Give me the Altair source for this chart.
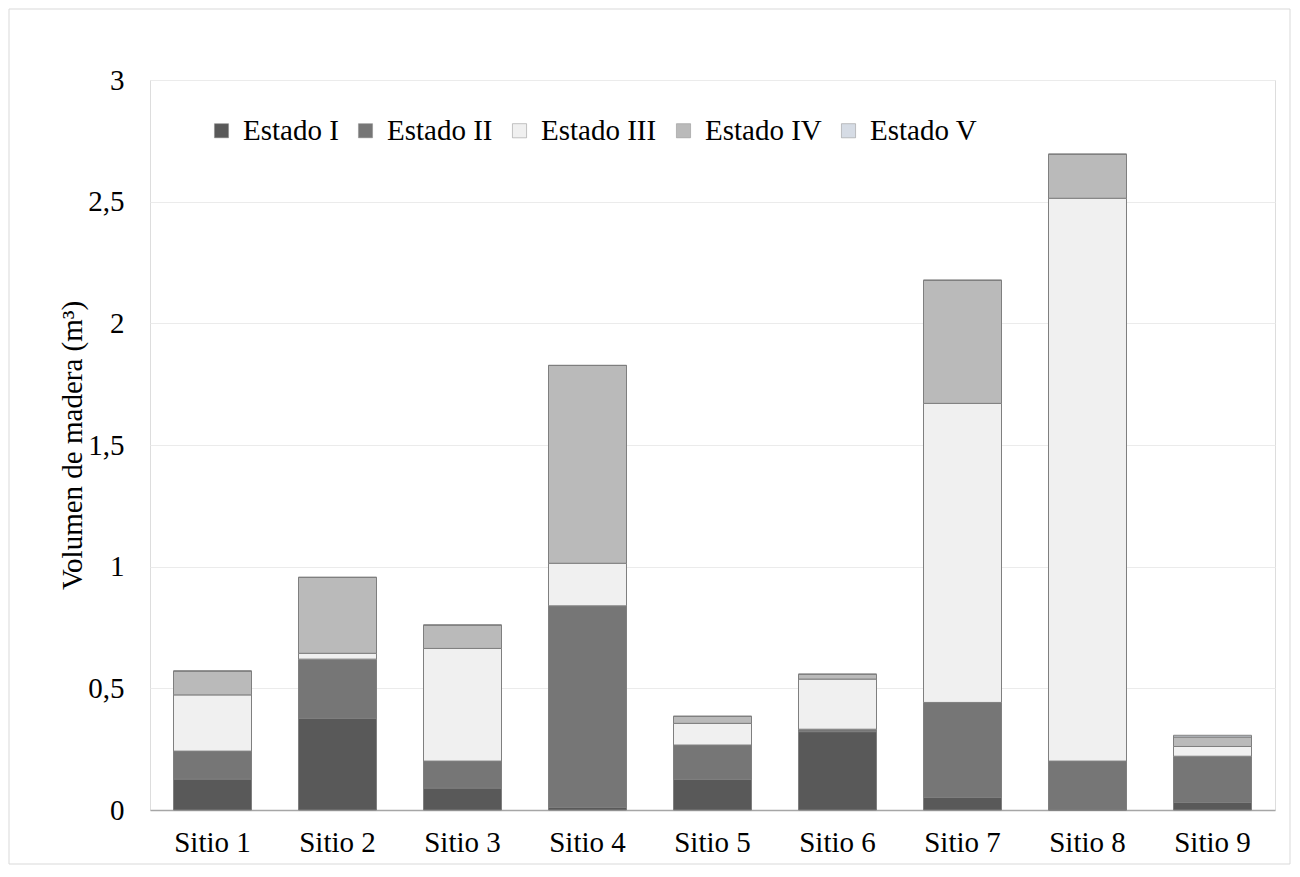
import altair as alt
import pandas as pd

sitios = ["Sitio 1", "Sitio 2", "Sitio 3", "Sitio 4", "Sitio 5",
          "Sitio 6", "Sitio 7", "Sitio 8", "Sitio 9"]
estados = ["Estado I", "Estado II", "Estado III", "Estado IV", "Estado V"]
estado_i = [0.127, 0.377, 0.090, 0.011, 0.126, 0.322, 0.052, 0.000, 0.031]
estado_ii = [0.115, 0.243, 0.111, 0.828, 0.141, 0.010, 0.390, 0.201, 0.190]
estado_iii = [0.231, 0.024, 0.463, 0.175, 0.089, 0.206, 1.229, 2.313, 0.040]
estado_iv = [0.098, 0.312, 0.096, 0.813, 0.029, 0.020, 0.506, 0.181, 0.039]
estado_v = [0.000, 0.000, 0.000, 0.000, 0.000, 0.000, 0.000, 0.000, 0.007]
y_ticks = [0, 0.5, 1, 1.5, 2, 2.5, 3]

series = [estado_i, estado_ii, estado_iii, estado_iv, estado_v]
rows = []
for k, (est, vals) in enumerate(zip(estados, series)):
    for s, v in zip(sitios, vals):
        rows.append({"Sitio": s, "Estado": est, "orden": k, "Volumen": v})
df = pd.DataFrame(rows)

FONT = "Liberation Serif"
FS = 29
colors = ["#595959", "#767676", "#f0f0f0", "#bababa", "#d6dce5"]

bars = alt.Chart(df).mark_bar(stroke="#7f7f7f", strokeWidth=1).encode(
    x=alt.X("Sitio:N", sort=sitios,
            scale=alt.Scale(paddingInner=0.376, paddingOuter=0.188),
            axis=alt.Axis(title=None, labelAngle=0, ticks=False,
                          domainColor="#a6a6a6", domainWidth=1.5,
                          labelPadding=18, labelFontSize=FS, labelFont=FONT,
                          labelColor="#000000", grid=False)),
    y=alt.Y("Volumen:Q", stack="zero",
            scale=alt.Scale(domain=[0, 3], nice=False),
            axis=alt.Axis(title="Volumen de madera (m³)", values=y_ticks,
                          labelExpr="replace(toString(datum.value), '.', ',')",
                          domain=False, ticks=False, labelPadding=26,
                          labelFontSize=FS, labelFont=FONT, labelColor="#000000",
                          gridColor="#ebebeb", gridWidth=1,
                          titleFont=FONT, titleFontSize=FS, titleFontWeight="normal",
                          titleColor="#000000", titleX=-78, titleY=365,
                          titleBaseline="middle", titleAngle=-90)),
    color=alt.Color("Estado:N", sort=estados,
                    scale=alt.Scale(domain=estados, range=colors),
                    legend=alt.Legend(title=None, orient="none", direction="horizontal",
                                      legendX=57, legendY=36, symbolType="square",
                                      symbolSize=200, symbolStrokeColor="#8c8c8c",
                                      symbolStrokeWidth=0.5,
                                      labelFont=FONT, labelFontSize=FS,
                                      labelColor="#000000", labelOffset=7,
                                      columnPadding=12, columns=5)),
    order=alt.Order("orden:Q", sort="ascending"),
)

frame = alt.Chart(pd.DataFrame({"a": [0]})).mark_rect(
    fill=None, stroke="#d9d9d9", strokeWidth=1
).encode(x=alt.value(-141), x2=alt.value(1140), y=alt.value(-71), y2=alt.value(784))

chart = alt.layer(frame, bars).properties(
    width=1125, height=730,
    autosize=alt.AutoSizeParams(type="none"),
    padding={"left": 142, "top": 72, "right": 17, "bottom": 55},
).configure_view(strokeWidth=0, stroke="transparent").configure(background="#ffffff")

chart.save("out.html", embed_options={"renderer": "svg", "actions": False})
